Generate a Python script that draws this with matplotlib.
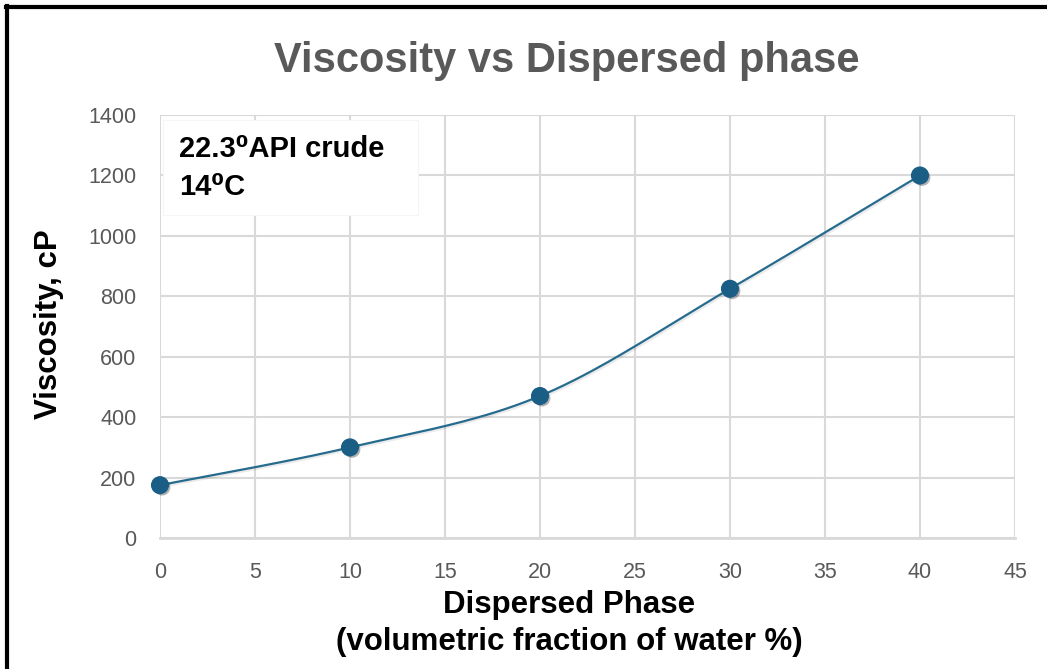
import matplotlib
matplotlib.use("Agg")
import matplotlib.pyplot as plt
import matplotlib.patheffects as pe
from matplotlib.lines import Line2D
from matplotlib.patches import Rectangle
import numpy as np

# data
water_pct = [0, 10, 20, 30, 40]
viscosity = [175, 300, 470, 825, 1200]
x_ticks = [0, 5, 10, 15, 20, 25, 30, 35, 40, 45]
y_ticks = [0, 200, 400, 600, 800, 1000, 1200, 1400]

plt.rcParams['font.family'] = ['Liberation Sans', 'DejaVu Sans']

grid_col = '#d9d9d9'
text_col = '#595959'
line_col = '#266b8e'
mark_col = '#1b5e85'


def smooth_curve(xs, ys, n=40):
    # excel-like smoothed line: catmull-rom as cubic bezier segments
    p = np.column_stack([xs, ys]).astype(float)
    pts = np.vstack([p[0], p, p[-1]])
    out = []
    t = np.linspace(0, 1, n)[:, None]
    for i in range(1, len(pts) - 2):
        p0, p1, p2, p3 = pts[i - 1], pts[i], pts[i + 1], pts[i + 2]
        c1 = p1 + (p2 - p0) / 6.0
        c2 = p2 - (p3 - p1) / 6.0
        seg = ((1 - t) ** 3) * p1 + 3 * ((1 - t) ** 2) * t * c1 + 3 * (1 - t) * t ** 2 * c2 + t ** 3 * p2
        out.append(seg if i == 1 else seg[1:])
    out = np.vstack(out)
    return out[:, 0], out[:, 1]


fig = plt.figure(figsize=(10.47, 6.69), dpi=100)
ax = fig.add_axes([0.1528, 0.1958, 0.8166, 0.6322])

sx, sy = smooth_curve(water_pct, viscosity)
ax.plot(sx, sy, color=line_col, lw=1.6, zorder=3,
        path_effects=[pe.SimpleLineShadow(offset=(1.2, -1.2), alpha=0.08, shadow_color='k'), pe.Normal()])
ax.plot(water_pct, viscosity, ls='none', marker='o', ms=12, color=mark_col,
        mec=mark_col, zorder=4,
        path_effects=[pe.SimplePatchShadow(offset=(1.5, -1.5), alpha=0.3, shadow_rgbFace='k'), pe.Normal()])

ax.set_xlim(0, 45)
ax.set_ylim(0, 1400)
ax.set_xticks(x_ticks)
ax.set_yticks(y_ticks)
ax.grid(True, color=grid_col, lw=1.5)
ax.set_axisbelow(True)
for s in ['top', 'right', 'left']:
    ax.spines[s].set_visible(False)
ax.spines['bottom'].set_color(grid_col)
ax.spines['bottom'].set_linewidth(2)
ax.tick_params(length=0, labelsize=15.5, colors=text_col)
ax.tick_params(axis='x', pad=17)
ax.tick_params(axis='y', pad=17)
for art in ax.lines:
    art.set_clip_on(False)

fig.text(0.541, 0.892, 'Viscosity vs Dispersed phase', ha='center', va='baseline',
         fontsize=30, fontweight='bold', color=text_col)
fig.text(0.047, 0.516, 'Viscosity, cP', rotation=90, ha='center', va='center',
         fontsize=22.5, fontweight='bold', color='black')
fig.text(0.5435, 0.0837, 'Dispersed Phase', ha='center', va='baseline',
         fontsize=22.5, fontweight='bold', color='black')
fig.text(0.5435, 0.0284, '(volumetric fraction of water %)', ha='center', va='baseline',
         fontsize=22.5, fontweight='bold', color='black')

# annotation box
ax.add_patch(Rectangle((0.0035, 0.7636), 0.2983, 0.2244, transform=ax.transAxes,
                       fc='white', ec='#f5f5f5', lw=0.8, zorder=5, clip_on=False))
ax.text(0.022, 0.9007, '22.3\u2070API crude', transform=ax.transAxes, ha='left', va='baseline',
        fontsize=21, fontweight='bold', color='black', zorder=6)
ax.text(0.022, 0.811, '14\u2070C', transform=ax.transAxes, ha='left', va='baseline',
        fontsize=21, fontweight='bold', color='black', zorder=6)

# figure frame: top and left edges only
fig.add_artist(Line2D([0.006, 1.0], [0.990, 0.990], transform=fig.transFigure, color='black', lw=3))
fig.add_artist(Line2D([0.007, 0.007], [0.0, 0.991], transform=fig.transFigure, color='black', lw=3))

fig.savefig('out.png', dpi=100)
plt.close(fig)
